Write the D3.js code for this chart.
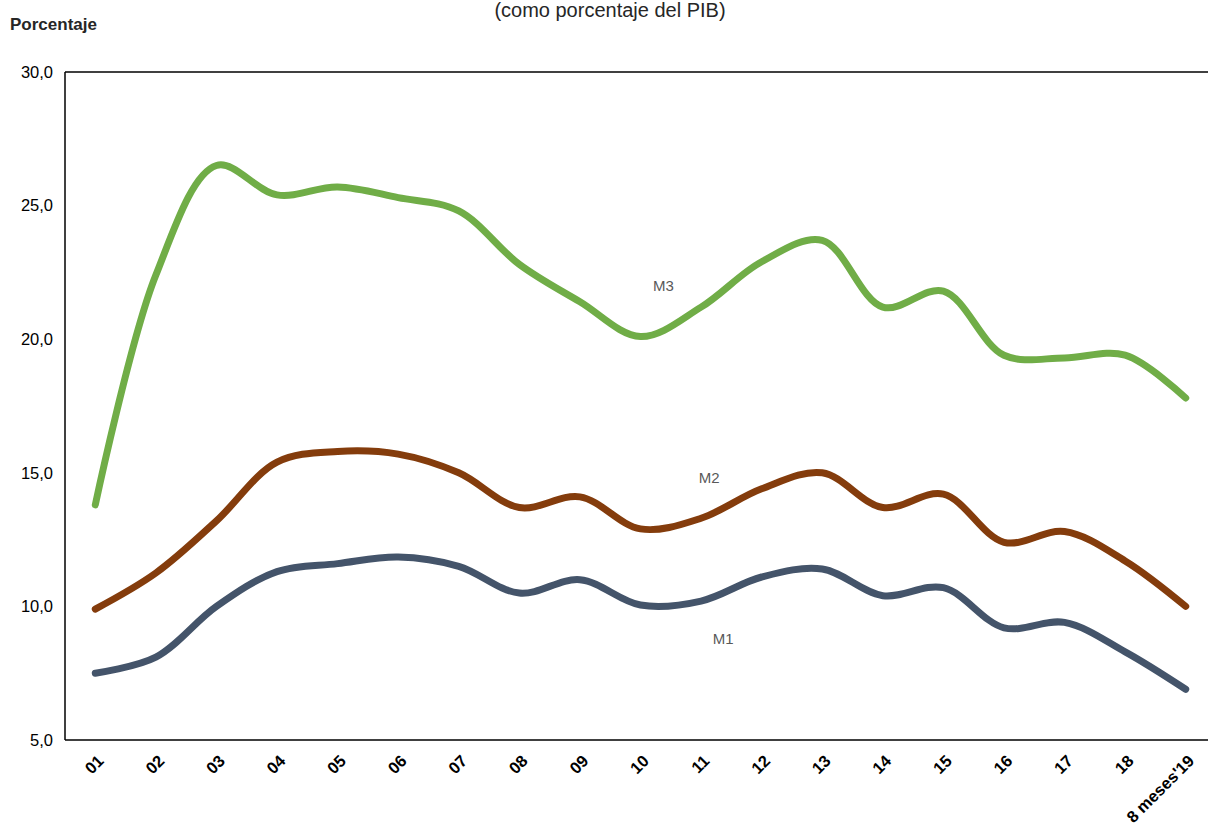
<!DOCTYPE html>
<html>
<head>
<meta charset="utf-8">
<script src="https://cdn.jsdelivr.net/npm/d3@7"></script>
<style>
  html, body { margin: 0; padding: 0; background: #fff; }
  svg { display: block; font-family: "Liberation Sans", Arial, sans-serif; }
</style>
</head>
<body>
<svg id="chart" width="1208" height="827"></svg>
<script>
// Years on the horizontal axis
const categories = ["01","02","03","04","05","06","07","08","09","10","11","12","13","14","15","16","17","18","8 meses'19"];

// Monetary aggregates, as % of GDP
const m1 = [7.5, 8.1, 10.0, 11.3, 11.6, 11.85, 11.5, 10.5, 11.0, 10.05, 10.2, 11.1, 11.4, 10.4, 10.7, 9.2, 9.4, 8.3, 6.9];
const m2 = [9.9, 11.25, 13.2, 15.4, 15.8, 15.7, 15.0, 13.7, 14.1, 12.9, 13.3, 14.4, 15.0, 13.7, 14.2, 12.4, 12.8, 11.7, 10.0];
const m3 = [13.8, 22.4, 26.5, 25.4, 25.7, 25.3, 24.8, 22.8, 21.4, 20.1, 21.2, 22.9, 23.7, 21.2, 21.8, 19.4, 19.3, 19.4, 17.8];

const yTicks = [5, 10, 15, 20, 25, 30];
const seriesNames = ["M1", "M2", "M3"];
const seriesColors = ["#44546A", "#843C0C", "#70AD47"];

const svg = d3.select("#chart");
const plot = { left: 65, top: 72, right: 1216, bottom: 740 };

const x = d3.scalePoint().domain(categories).range([plot.left, plot.right]).padding(0.5);
const y = d3.scaleLinear().domain([5, 30]).range([plot.bottom, plot.top]);

const fmt = v => d3.format(".1f")(v).replace(".", ",");

// Title and unit
svg.append("text")
  .attr("x", 610).attr("y", 17)
  .attr("text-anchor", "middle")
  .attr("font-size", 20).attr("fill", "#262626")
  .text("(como porcentaje del PIB)");

svg.append("text")
  .attr("x", 10).attr("y", 30)
  .attr("font-size", 17).attr("font-weight", "bold").attr("fill", "#262626")
  .text("Porcentaje");

// Frame lines
svg.append("line")
  .attr("x1", plot.left).attr("x2", 1208)
  .attr("y1", y(30)).attr("y2", y(30))
  .attr("stroke", "#000").attr("stroke-width", 1.5);
svg.append("line")
  .attr("x1", plot.left).attr("x2", 1208)
  .attr("y1", y(5)).attr("y2", y(5))
  .attr("stroke", "#000").attr("stroke-width", 1.5);
svg.append("line")
  .attr("x1", plot.left).attr("x2", plot.left)
  .attr("y1", y(30)).attr("y2", y(5))
  .attr("stroke", "#000").attr("stroke-width", 1.5);

// Y axis labels
const yAxis = d3.axisLeft(y).tickValues(yTicks).tickFormat(fmt).tickSize(0).tickPadding(12);
const gy = svg.append("g").attr("transform", `translate(${plot.left},0)`).call(yAxis);
gy.select(".domain").remove();
gy.selectAll("text")
  .attr("font-size", 16.5).attr("fill", "#000")
  .attr("font-family", "'Liberation Sans', Arial, sans-serif");

// X axis labels, rotated
const xAxis = d3.axisBottom(x).tickSize(0);
const gx = svg.append("g").attr("transform", `translate(0,${plot.bottom})`).call(xAxis);
gx.select(".domain").remove();
gx.selectAll("text")
  .attr("font-size", 16.5).attr("font-weight", "bold").attr("fill", "#000")
  .attr("font-family", "'Liberation Sans', Arial, sans-serif")
  .attr("text-anchor", "end")
  .attr("dy", null).attr("y", 0)
  .attr("transform", "translate(9,22) rotate(-45)");

// Smoothed series lines
const line = d3.line()
  .x((d, i) => x(categories[i]))
  .y(d => y(d))
  .curve(d3.curveCatmullRom.alpha(0.5));

[m1, m2, m3].forEach((vals, k) => {
  svg.append("path")
    .datum(vals)
    .attr("d", line)
    .attr("fill", "none")
    .attr("stroke", seriesColors[k])
    .attr("stroke-width", 7)
    .attr("stroke-linecap", "round")
    .attr("stroke-linejoin", "round");
});

// Series labels
const labelPos = [
  { name: seriesNames[0], cat: "11", dx: 22, v: 8.8 },
  { name: seriesNames[1], cat: "11", dx: 8, v: 14.8 },
  { name: seriesNames[2], cat: "10", dx: 23, v: 22.0 }
];
labelPos.forEach(p => {
  svg.append("text")
    .attr("x", x(p.cat) + p.dx)
    .attr("y", y(p.v))
    .attr("dy", "0.35em")
    .attr("text-anchor", "middle")
    .attr("font-size", 15).attr("fill", "#595959")
    .text(p.name);
});
</script>
</body>
</html>
